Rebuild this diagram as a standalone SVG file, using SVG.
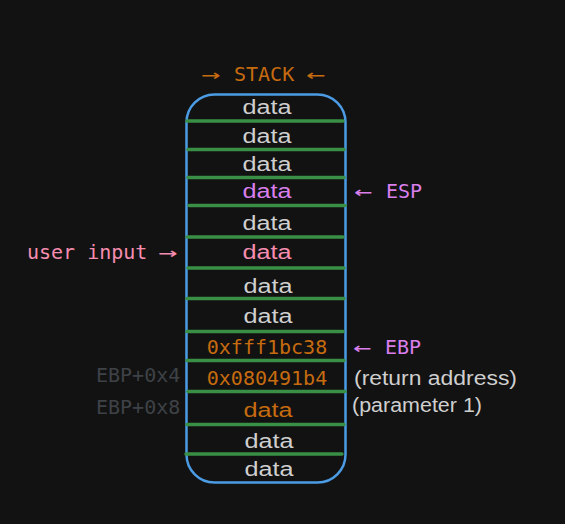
<svg xmlns="http://www.w3.org/2000/svg" width="565" height="524" viewBox="0 0 565 524">
  <style>
    .mono { font-family: "DejaVu Sans Mono", "Liberation Mono", monospace; font-size: 20px; }
    .hand { font-family: "Liberation Sans", "DejaVu Sans", sans-serif; font-size: 20px; }
    .data { text-anchor: middle; }
    .gray { fill: #cfcfcf; }
    .orange { fill: #c66b0f; }
    .purple { fill: #d97fec; }
    .pink { fill: #f68db0; }
    .dim { fill: #3e4247; }
    .div { stroke: #3a8f46; stroke-width: 3.5; stroke-linecap: round; fill: none; }
  </style>
  <rect x="0" y="0" width="565" height="524" fill="#121212"/>

  <g id="title">
    <text class="mono orange" x="201" y="80.5" textLength="19" lengthAdjust="spacingAndGlyphs">→</text>
    <text class="mono orange" x="234" y="80.5">STACK</text>
    <text class="mono orange" x="306" y="80.5" textLength="19" lengthAdjust="spacingAndGlyphs">←</text>
  </g>

  <g id="stack">
    <rect x="186.5" y="94.5" width="159" height="388" rx="28" ry="28" fill="none" stroke="#4b9ce4" stroke-width="2.5"/>
  </g>

  <g id="dividers">
    <line class="div" x1="187" y1="121" x2="343" y2="121"/>
    <line class="div" x1="188" y1="149.5" x2="344" y2="149.5"/>
    <line class="div" x1="188" y1="177.5" x2="344" y2="177.5"/>
    <line class="div" x1="189" y1="205.5" x2="345" y2="205.5"/>
    <line class="div" x1="187" y1="237" x2="343" y2="237"/>
    <line class="div" x1="188" y1="268" x2="344" y2="268"/>
    <line class="div" x1="187" y1="298.5" x2="344" y2="298.5"/>
    <line class="div" x1="187" y1="331.5" x2="343" y2="331.5"/>
    <line class="div" x1="187" y1="360.5" x2="344" y2="360.5"/>
    <line class="div" x1="188" y1="391.5" x2="345" y2="391.5"/>
    <line class="div" x1="187" y1="424.5" x2="344" y2="424.5"/>
    <line class="div" x1="186" y1="454" x2="342" y2="454"/>
  </g>

  <g id="cell1"><text class="hand data gray" x="267" y="114" textLength="49" lengthAdjust="spacingAndGlyphs">data</text></g>
  <g id="cell2"><text class="hand data gray" x="267" y="143" textLength="49" lengthAdjust="spacingAndGlyphs">data</text></g>
  <g id="cell3"><text class="hand data gray" x="267" y="171" textLength="49" lengthAdjust="spacingAndGlyphs">data</text></g>
  <g id="cell4"><text class="hand data purple" x="267" y="198" textLength="49" lengthAdjust="spacingAndGlyphs">data</text></g>
  <g id="cell5"><text class="hand data gray" x="267" y="230" textLength="49" lengthAdjust="spacingAndGlyphs">data</text></g>
  <g id="cell6"><text class="hand data pink" x="267" y="259" textLength="49" lengthAdjust="spacingAndGlyphs">data</text></g>
  <g id="cell7"><text class="hand data gray" x="268" y="293" textLength="49" lengthAdjust="spacingAndGlyphs">data</text></g>
  <g id="cell8"><text class="hand data gray" x="268" y="323" textLength="49" lengthAdjust="spacingAndGlyphs">data</text></g>
  <g id="cell9"><text class="mono data orange" x="267" y="354">0xfff1bc38</text></g>
  <g id="cell10"><text class="mono data orange" x="267" y="385">0x080491b4</text></g>
  <g id="cell11"><text class="hand data orange" x="268" y="417" textLength="49" lengthAdjust="spacingAndGlyphs">data</text></g>
  <g id="cell12"><text class="hand data gray" x="269" y="448" textLength="49" lengthAdjust="spacingAndGlyphs">data</text></g>
  <g id="cell13"><text class="hand data gray" x="269" y="476" textLength="49" lengthAdjust="spacingAndGlyphs">data</text></g>

  <g id="esp-label">
    <text class="mono purple" x="354" y="198" textLength="18" lengthAdjust="spacingAndGlyphs">←</text>
    <text class="mono purple" x="386" y="198">ESP</text>
  </g>
  <g id="user-input-label">
    <text class="mono pink" x="27" y="258.5">user input</text>
    <text class="mono pink" x="158" y="258.5" textLength="19" lengthAdjust="spacingAndGlyphs">→</text>
  </g>
  <g id="ebp-label">
    <text class="mono purple" x="353" y="354" textLength="18" lengthAdjust="spacingAndGlyphs">←</text>
    <text class="mono purple" x="385" y="354">EBP</text>
  </g>
  <g id="ebp4-label"><text class="mono dim" x="96" y="382">EBP+0x4</text></g>
  <g id="ebp8-label"><text class="mono dim" x="96" y="414">EBP+0x8</text></g>
  <g id="return-label"><text class="hand gray" x="354" y="385" textLength="163" lengthAdjust="spacingAndGlyphs">(return address)</text></g>
  <g id="param-label"><text class="hand gray" x="352" y="412" textLength="130" lengthAdjust="spacingAndGlyphs">(parameter 1)</text></g>
</svg>
